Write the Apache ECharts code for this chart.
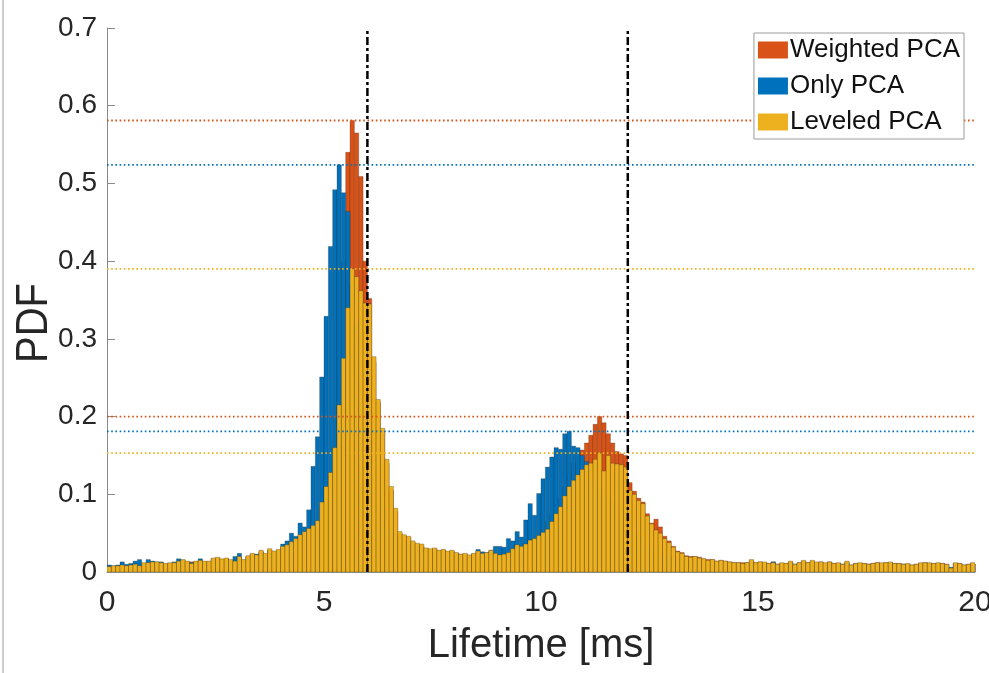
<!DOCTYPE html>
<html>
<head>
<meta charset="utf-8">
<script src="https://cdn.jsdelivr.net/npm/echarts@6/dist/echarts.min.js"></script>
<style>
html,body{margin:0;padding:0;background:#fff;}
#chart{width:989px;height:673px;}
</style>
</head>
<body>
<div id="chart"></div>
<script>
// ---- data ----
const binWidth = 0.1;
const binStarts = Array.from({length: 200}, (_, i) => +(i * binWidth).toFixed(1));

const weightedPCA = [
0.006,0.007,0.007,0.008,0.007,0.008,0.009,0.007,0.011,0.011,
0.012,0.012,0.011,0.010,0.011,0.011,0.013,0.015,0.013,0.013,
0.013,0.014,0.013,0.013,0.017,0.018,0.016,0.017,0.015,0.013,
0.019,0.015,0.020,0.023,0.021,0.026,0.023,0.028,0.025,0.027,
0.030,0.032,0.035,0.040,0.044,0.048,0.052,0.057,0.062,0.085,
0.105,0.125,0.160,0.250,0.400,0.540,0.581,0.565,0.509,0.400,
0.352,0.270,0.218,0.180,0.140,0.105,0.078,0.050,0.046,0.044,
0.038,0.035,0.034,0.030,0.029,0.030,0.027,0.028,0.026,0.027,
0.024,0.022,0.023,0.021,0.023,0.026,0.023,0.024,0.027,0.023,
0.021,0.022,0.024,0.029,0.034,0.032,0.035,0.040,0.042,0.046,
0.055,0.065,0.075,0.085,0.095,0.110,0.125,0.140,0.150,0.157,
0.166,0.176,0.190,0.200,0.192,0.178,0.166,0.155,0.152,0.150,
0.115,0.104,0.095,0.090,0.075,0.063,0.068,0.058,0.046,0.040,
0.033,0.027,0.025,0.021,0.020,0.020,0.019,0.017,0.016,0.016,
0.014,0.015,0.014,0.013,0.012,0.012,0.012,0.012,0.015,0.012,
0.013,0.012,0.011,0.013,0.010,0.011,0.011,0.013,0.010,0.012,
0.014,0.012,0.014,0.012,0.013,0.011,0.013,0.011,0.011,0.010,
0.013,0.009,0.011,0.011,0.011,0.010,0.011,0.012,0.011,0.012,
0.012,0.011,0.011,0.010,0.010,0.009,0.010,0.011,0.012,0.011,
0.011,0.011,0.011,0.010,0.005,0.011,0.011,0.009,0.010,0.011
];

const onlyPCA = [
0.009,0.008,0.009,0.013,0.010,0.011,0.014,0.016,0.011,0.016,
0.014,0.013,0.013,0.010,0.011,0.013,0.017,0.015,0.013,0.012,
0.013,0.017,0.013,0.013,0.016,0.017,0.015,0.016,0.015,0.020,
0.024,0.015,0.020,0.022,0.023,0.026,0.023,0.028,0.026,0.028,
0.036,0.040,0.050,0.046,0.063,0.058,0.080,0.136,0.174,0.251,
0.329,0.419,0.492,0.524,0.488,0.464,0.370,0.320,0.260,0.210,
0.170,0.130,0.100,0.080,0.065,0.055,0.047,0.042,0.040,0.038,
0.036,0.034,0.033,0.030,0.028,0.029,0.027,0.028,0.026,0.026,
0.024,0.023,0.022,0.021,0.023,0.029,0.026,0.025,0.028,0.033,
0.033,0.032,0.043,0.040,0.052,0.045,0.067,0.088,0.073,0.101,
0.120,0.135,0.148,0.160,0.158,0.178,0.181,0.162,0.160,0.150,
0.142,0.130,0.120,0.110,0.100,0.095,0.090,0.080,0.070,0.065,
0.058,0.052,0.046,0.040,0.035,0.030,0.027,0.024,0.022,0.020,
0.019,0.018,0.017,0.016,0.016,0.015,0.015,0.014,0.013,0.014,
0.013,0.013,0.012,0.012,0.011,0.011,0.010,0.011,0.013,0.011,
0.012,0.011,0.010,0.013,0.010,0.010,0.010,0.012,0.010,0.011,
0.013,0.011,0.013,0.011,0.012,0.011,0.011,0.010,0.011,0.010,
0.012,0.009,0.010,0.011,0.010,0.010,0.010,0.011,0.011,0.011,
0.012,0.010,0.010,0.010,0.010,0.009,0.009,0.011,0.011,0.011,
0.010,0.011,0.010,0.009,0.006,0.011,0.010,0.009,0.009,0.011
];

const leveledPCA = [
0.007,0.008,0.008,0.009,0.008,0.009,0.010,0.008,0.012,0.012,
0.013,0.013,0.012,0.011,0.012,0.012,0.014,0.016,0.014,0.011,
0.014,0.015,0.014,0.014,0.018,0.019,0.017,0.018,0.016,0.014,
0.020,0.016,0.021,0.024,0.022,0.028,0.024,0.030,0.027,0.029,
0.033,0.035,0.039,0.043,0.048,0.052,0.056,0.060,0.066,0.090,
0.110,0.128,0.160,0.215,0.275,0.340,0.390,0.380,0.362,0.346,
0.345,0.277,0.222,0.185,0.145,0.110,0.082,0.052,0.048,0.046,
0.040,0.037,0.036,0.031,0.030,0.031,0.028,0.029,0.027,0.028,
0.025,0.023,0.024,0.022,0.024,0.027,0.024,0.025,0.028,0.024,
0.022,0.023,0.025,0.030,0.035,0.033,0.036,0.041,0.043,0.047,
0.051,0.055,0.065,0.075,0.084,0.098,0.110,0.118,0.125,0.132,
0.138,0.140,0.145,0.153,0.130,0.150,0.140,0.139,0.138,0.135,
0.105,0.100,0.092,0.088,0.072,0.062,0.054,0.050,0.043,0.038,
0.032,0.026,0.024,0.020,0.019,0.020,0.018,0.017,0.015,0.016,
0.014,0.015,0.014,0.013,0.012,0.012,0.011,0.012,0.016,0.012,
0.013,0.013,0.011,0.012,0.010,0.012,0.011,0.014,0.010,0.012,
0.015,0.012,0.015,0.013,0.013,0.012,0.013,0.011,0.012,0.010,
0.014,0.009,0.011,0.012,0.011,0.010,0.011,0.012,0.012,0.012,
0.013,0.011,0.011,0.010,0.011,0.009,0.010,0.012,0.012,0.012,
0.011,0.012,0.011,0.010,0.005,0.012,0.011,0.009,0.010,0.012
];

// reference levels (dotted lines) and vertical markers
const weightedRefs = [0.581, 0.200];
const onlyRefs = [0.524, 0.181];
const leveledRefs = [0.390, 0.153];
const vLines = [6, 12];

const xTicks = [0, 5, 10, 15, 20];
const yTicks = [0, 0.1, 0.2, 0.3, 0.4, 0.5, 0.6, 0.7];

// ---- chart ----
const C_OR = '#D95319', C_BL = '#0072BD', C_YE = '#EDB120';
const FONT = 'Liberation Sans, Arial, sans-serif';

function histData(vals) {
  return vals.map((v, i) => [binStarts[i], +(binStarts[i] + binWidth).toFixed(2), v]);
}
function renderBar(color) {
  return function (params, api) {
    const p0 = api.coord([api.value(0), api.value(2)]);
    const p1 = api.coord([api.value(1), 0]);
    return {
      type: 'rect',
      shape: {x: p0[0], y: p0[1], width: p1[0] - p0[0], height: p1[1] - p0[1]},
      style: {fill: color, stroke: 'rgba(50,35,10,0.45)', lineWidth: 0.6}
    };
  };
}
function histSeries(name, vals, color, z) {
  return {
    type: 'custom', name: name, z: z,
    renderItem: renderBar(color),
    itemStyle: {color: color},
    encode: {x: [0, 1], y: 2},
    data: histData(vals),
    clip: true, animation: false
  };
}
function hLine(v, color) {
  return {
    type: 'line', data: [[0, v], [20, v]], symbol: 'none', z: 10, silent: true,
    lineStyle: {color: color, width: 1.8, type: [1.6, 2.6]}, animation: false
  };
}
function vLine(x) {
  return {
    type: 'line', data: [[x, 0], [x, 0.7]], symbol: 'none', z: 11, silent: true,
    lineStyle: {color: '#000', width: 2.5, type: [8, 3, 3, 3]}, animation: false
  };
}

const series = [
  histSeries('Weighted PCA', weightedPCA, C_OR, 2),
  histSeries('Only PCA', onlyPCA, C_BL, 3),
  histSeries('Leveled PCA', leveledPCA, C_YE, 4)
];
weightedRefs.forEach(v => series.push(hLine(v, C_OR)));
onlyRefs.forEach(v => series.push(hLine(v, C_BL)));
leveledRefs.forEach(v => series.push(hLine(v, C_YE)));
vLines.forEach(x => series.push(vLine(x)));

const chart = echarts.init(document.getElementById('chart'), null, {renderer: 'canvas'});
chart.setOption({
  backgroundColor: '#fff',
  animation: false,
  textStyle: {fontFamily: FONT},
  grid: {left: 107, right: 14, top: 28, bottom: 101, containLabel: false, outerBoundsMode: 'none'},
  legend: {
    data: ['Weighted PCA', 'Only PCA', 'Leveled PCA'],
    orient: 'vertical', right: 25, top: 33,
    icon: 'rect', itemWidth: 30, itemHeight: 17, itemGap: 10,
    backgroundColor: '#fff', borderColor: '#9a9a9a', borderWidth: 1,
    padding: [4, 4, 4, 4], z: 20,
    textStyle: {fontSize: 26, color: '#111', fontFamily: FONT, padding: [0, 0, 0, -3]}
  },
  xAxis: {
    type: 'value', min: 0, max: 20, interval: 5,
    name: 'Lifetime [ms]', nameLocation: 'middle', nameGap: 54,
    nameTextStyle: {fontSize: 40, color: '#262626', fontFamily: FONT},
    axisLine: {show: true, lineStyle: {color: '#8a8a8a', width: 1}},
    axisTick: {show: true, inside: true, length: 8, lineStyle: {color: '#8a8a8a'}},
    axisLabel: {fontSize: 30, color: '#262626', margin: 16, fontFamily: FONT,
      formatter: v => xTicks.includes(v) ? String(v) : ''},
    splitLine: {show: false}
  },
  yAxis: {
    type: 'value', min: 0, max: 0.7, interval: 0.1,
    axisLine: {show: true, lineStyle: {color: '#8a8a8a', width: 1}},
    axisTick: {show: true, inside: true, length: 8, lineStyle: {color: '#8a8a8a'}},
    axisLabel: {fontSize: 28, color: '#262626', margin: 10, fontFamily: FONT,
      formatter: v => { const t = yTicks.find(k => Math.abs(k - v) < 1e-9); return t === undefined ? '' : String(t); }},
    splitLine: {show: false}
  },
  graphic: [
    {type: 'line', shape: {x1: 3, y1: 0, x2: 3, y2: 673}, style: {stroke: '#9a9a9a', lineWidth: 1}},
    {type: 'text', x: 35, y: 323, rotation: Math.PI / 2, scaleY: 1.12,
      style: {text: 'PDF', font: '40px ' + FONT, fill: '#262626', align: 'center', verticalAlign: 'middle'}}
  ],
  series: series
});
</script>
</body>
</html>
